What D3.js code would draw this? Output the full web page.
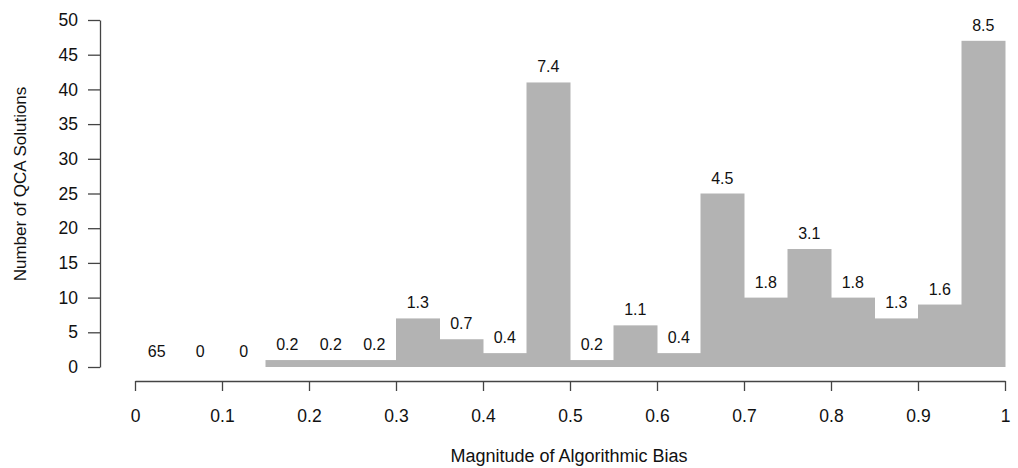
<!DOCTYPE html>
<html>
<head>
<meta charset="utf-8">
<script src="https://cdn.jsdelivr.net/npm/d3@7"></script>
<style>
  body { margin: 0; background: #fff; }
  svg text { font-family: "Liberation Sans", Arial, sans-serif; fill: #111; }
</style>
</head>
<body>
<div id="chart"></div>
<script>
const binStarts = [0, 0.05, 0.1, 0.15, 0.2, 0.25, 0.3, 0.35, 0.4, 0.45,
                   0.5, 0.55, 0.6, 0.65, 0.7, 0.75, 0.8, 0.85, 0.9, 0.95];
const counts = [0, 0, 0, 1, 1, 1, 7, 4, 2, 41, 1, 6, 2, 25, 10, 17, 10, 7, 9, 47];
const barLabels = ['65', '0', '0', '0.2', '0.2', '0.2', '1.3', '0.7', '0.4', '7.4',
                   '0.2', '1.1', '0.4', '4.5', '1.8', '3.1', '1.8', '1.3', '1.6', '8.5'];
const xTicks = [0, 0.1, 0.2, 0.3, 0.4, 0.5, 0.6, 0.7, 0.8, 0.9, 1];
const yTicks = [0, 5, 10, 15, 20, 25, 30, 35, 40, 45, 50];
const BINW = 0.05;

const W = 1018, H = 468;
const BARCOLOR = '#b3b3b3';
const AXISCOLOR = '#444';
const FONT = '"Liberation Sans", Arial, sans-serif';

const x = d3.scaleLinear().domain([0, 1]).range([135, 1005]);
const y = d3.scaleLinear().domain([0, 50]).range([367, 20]);

const svg = d3.select('#chart').append('svg')
  .attr('width', W)
  .attr('height', H);

const data = binStarts.map((s, i) => ({ s, n: counts[i], lab: barLabels[i] }));

// bars (empty bins only leave a faint baseline)
svg.append('g').selectAll('rect')
  .data(data)
  .enter().append('rect')
  .attr('x', d => x(d.s))
  .attr('y', d => y(d.n))
  .attr('width', d => x(d.s + BINW) - x(d.s) + 0.5)
  .attr('height', d => y(0) - y(d.n))
  .attr('fill', BARCOLOR)
  .attr('stroke', d => d.n ? 'none' : '#ebebeb')
  .attr('stroke-width', 1);

// labels above bars
svg.append('g').selectAll('text')
  .data(data)
  .enter().append('text')
  .attr('x', d => x(d.s + BINW / 2))
  .attr('y', d => y(d.n) - 10)
  .attr('text-anchor', 'middle')
  .style('font-size', '16px')
  .text(d => d.lab);

// y axis
const yg = svg.append('g')
  .attr('transform', 'translate(100,0)')
  .call(d3.axisLeft(y).tickValues(yTicks).tickSize(12).tickPadding(10).tickSizeOuter(0));
yg.select('.domain').attr('stroke', AXISCOLOR).attr('stroke-width', 1.3);
yg.selectAll('.tick line').attr('stroke', AXISCOLOR).attr('stroke-width', 1.3);
yg.selectAll('.tick text').style('font-size', '17.5px').style('font-family', FONT).attr('fill', '#111');

// x axis
const xg = svg.append('g')
  .attr('transform', 'translate(0,381)')
  .call(d3.axisBottom(x).tickValues(xTicks).tickFormat(d3.format('~g')).tickSize(10).tickPadding(19).tickSizeOuter(0));
xg.select('.domain').attr('stroke', AXISCOLOR).attr('stroke-width', 1.3);
xg.selectAll('.tick line').attr('stroke', AXISCOLOR).attr('stroke-width', 1.3);
xg.selectAll('.tick text').style('font-size', '17.5px').style('font-family', FONT).attr('fill', '#111');

// axis titles
svg.append('text')
  .attr('x', 569)
  .attr('y', 462)
  .attr('text-anchor', 'middle')
  .style('font-size', '18px')
  .text('Magnitude of Algorithmic Bias');

svg.append('text')
  .attr('transform', 'translate(26,184) rotate(-90)')
  .attr('text-anchor', 'middle')
  .style('font-size', '17px')
  .text('Number of QCA Solutions');
</script>
</body>
</html>
